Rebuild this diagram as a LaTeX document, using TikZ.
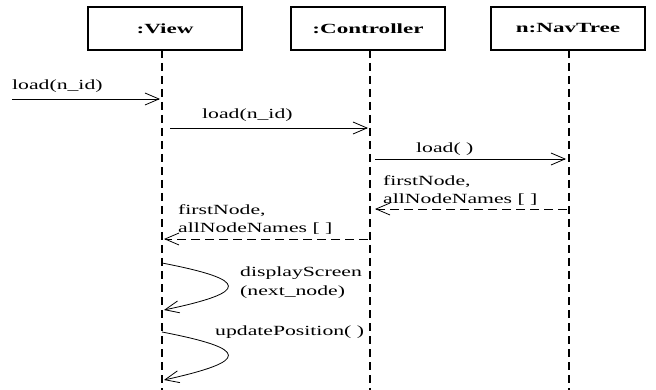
\documentclass[tikz,border=0pt]{standalone}
\usepackage{fontspec}
\setmainfont{Liberation Serif}[FakeStretch=1.55]
\newfontfamily\titlefamily{Liberation Serif}[FakeStretch=1.65]
\usetikzlibrary{arrows.meta}
\tikzset{
  obj/.style={draw, line width=1.1pt, minimum width=154pt, minimum height=43pt, inner sep=0pt, font=\titlefamily\fontsize{14}{16}\selectfont\bfseries},
  life/.style={line width=1.1pt, dash pattern=on 8pt off 5pt},
  msg/.style={line width=0.8pt, -{Straight Barb[length=14pt,width=12pt,line width=0.8pt]}},
  ret/.style={msg, dash pattern=on 9pt off 5pt},
  lbl/.style={inner sep=0pt, anchor=base west, align=left, font=\fontsize{14}{18.5}\selectfont}
}
\begin{document}
\begin{tikzpicture}[x=1pt,y=-1pt]
\useasboundingbox (0,0) rectangle (656,390);
% objects
\node[obj] (view) at (165,28.5) {:View};
\node[obj] (ctrl) at (368,28.5) {:Controller};
\node[obj] (nav) at (568,28.5) {n:NavTree};
% lifelines
\coordinate (vt) at (162,50); \coordinate (vb) at (162,390);
\coordinate (ct) at (370,50); \coordinate (cb) at (370,390);
\coordinate (nt) at (569,50); \coordinate (nb) at (569,390);
\draw[life] (vt) -- (vb);
\draw[life] (ct) -- (cb);
\draw[life] (nt) -- (nb);
% message 1
\coordinate (m1s) at (12,99); \coordinate (m1e) at (160,99);
\draw[msg] (m1s) -- (m1e);
\node[lbl] (l1) at (12,90) {load(n\_id)};
% message 2
\coordinate (m2s) at (170,128); \coordinate (m2e) at (368,128);
\draw[msg] (m2s) -- (m2e);
\node[lbl] (l2) at (202,119) {load(n\_id)};
% message 3
\coordinate (m3s) at (375,159); \coordinate (m3e) at (566,159);
\draw[msg] (m3s) -- (m3e);
\node[lbl] (l3) at (416,153) {load( )};
% return 4
\coordinate (m4s) at (567,209); \coordinate (m4e) at (375,209);
\draw[ret] (m4s) -- (m4e);
\node[lbl] (l4) at (383,204) {firstNode,\\allNodeNames [ ]};
% return 5
\coordinate (m5s) at (368,239); \coordinate (m5e) at (164,239);
\draw[ret] (m5s) -- (m5e);
\node[lbl] (l5) at (178,233) {firstNode,\\allNodeNames [ ]};
% self call 1
\coordinate (s1s) at (162,263); \coordinate (s1e) at (164,310);
\draw[msg] (s1s) .. controls (250,280) and (250,292) .. (s1e);
\node[lbl] (l6) at (240,295) {displayScreen\\(next\_node)};
% self call 2
\coordinate (s2s) at (162,332); \coordinate (s2e) at (164,380);
\draw[msg] (s2s) .. controls (250,349) and (250,361) .. (s2e);
\node[lbl] (l7) at (215,335) {updatePosition( )};
\end{tikzpicture}
\end{document}
